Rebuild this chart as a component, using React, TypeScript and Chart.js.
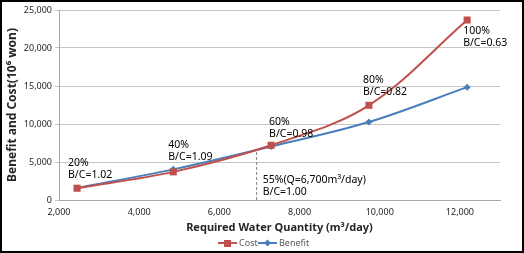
import React, { useEffect, useRef } from "react";
import { Chart, registerables } from "chart.js";

Chart.register(...registerables);

// Required water quantity (m³/day) at each supply level
const quantities = [2450, 4850, 7290, 9730, 12180];
// Cost and benefit (10⁶ won)
const costValues = [1550, 3700, 7200, 12460, 23680];
const benefitValues = [1580, 4030, 7050, 10260, 14850];
// Supply level and B/C ratio labels for each point
const levelLabels = ["20%", "40%", "60%", "80%", "100%"];
const ratioLabels = ["B/C=1.02", "B/C=1.09", "B/C=0.98", "B/C=0.82", "B/C=0.63"];
// Break-even point
const breakEvenQ = 6930;
const breakEvenValue = 6700;
const breakEvenLabels = ["55%(Q=6,700m³/day)", "B/C=1.00"];

// Axis ranges and tick values
const xMin = 2000;
const xMax = 13000;
const xTickValues = [2000, 4000, 6000, 8000, 10000, 12000];
const yMin = 0;
const yMax = 25000;
const yStep = 5000;

const seriesNames = ["Cost", "Benefit"];
const xTitle = "Required Water Quantity (m³/day)";
const yTitle = "Benefit and Cost(10⁶ won)";

const COST_COLOR = "#C0504D";
const BENEFIT_COLOR = "#4A7EBB";
const GRID_COLOR = "#C6C6C6";
const AXIS_COLOR = "#A6A6A6";
const TEXT_FONT = "'Noto Sans', sans-serif";

// Offsets (px) of each level label from its cost point
const labelOffsets = [
  { dx: -9, dy: -25 },
  { dx: -5, dy: -27 },
  { dx: -2, dy: -23 },
  { dx: -6, dy: -25 },
  { dx: -4, dy: 11 },
];

const fmt = (v: number) => v.toLocaleString("en-US");

const overlayPlugin = {
  id: "overlay",
  afterDatasetsDraw(chart: any) {
    const { ctx, chartArea, scales } = chart;
    const xs = scales.x;
    const ys = scales.y;
    ctx.save();

    // Level / ratio annotations
    ctx.fillStyle = "#000";
    ctx.font = `10.5px ${TEXT_FONT}`;
    ctx.textAlign = "left";
    ctx.textBaseline = "middle";
    quantities.forEach((q, i) => {
      const px = xs.getPixelForValue(q) + labelOffsets[i].dx;
      const py = ys.getPixelForValue(costValues[i]) + labelOffsets[i].dy;
      ctx.fillText(levelLabels[i], px, py);
      ctx.fillText(ratioLabels[i], px, py + 12);
    });
    const bx = xs.getPixelForValue(breakEvenQ) + 6;
    const by = ys.getPixelForValue(0) - 20;
    ctx.fillText(breakEvenLabels[0], bx, by);
    ctx.fillText(breakEvenLabels[1], bx, by + 12);

    // Axis titles
    ctx.fillStyle = "#262626";
    ctx.font = `bold 11px ${TEXT_FONT}`;
    ctx.textAlign = "center";
    ctx.fillText(xTitle, (chartArea.left + chartArea.right) / 2, 228);
    ctx.save();
    ctx.translate(13, (chartArea.top + chartArea.bottom) / 2);
    ctx.rotate(-Math.PI / 2);
    ctx.font = `bold 12px ${TEXT_FONT}`;
    ctx.fillText(yTitle, 0, 0);
    ctx.restore();

    // Legend
    const legendY = 243;
    const items = [
      { x: 218, color: COST_COLOR, style: "rect", name: seriesNames[0] },
      { x: 258, color: BENEFIT_COLOR, style: "rectRot", name: seriesNames[1] },
    ];
    ctx.font = `9px ${TEXT_FONT}`;
    ctx.textAlign = "left";
    items.forEach((it) => {
      ctx.strokeStyle = it.color;
      ctx.lineWidth = 2;
      ctx.beginPath();
      ctx.moveTo(it.x, legendY);
      ctx.lineTo(it.x + 19, legendY);
      ctx.stroke();
      ctx.fillStyle = it.color;
      if (it.style === "rect") {
        ctx.fillRect(it.x + 6, legendY - 3, 7, 7);
      } else {
        ctx.beginPath();
        ctx.moveTo(it.x + 9.5, legendY - 3.5);
        ctx.lineTo(it.x + 13, legendY);
        ctx.lineTo(it.x + 9.5, legendY + 3.5);
        ctx.lineTo(it.x + 6, legendY);
        ctx.closePath();
        ctx.fill();
      }
      ctx.fillStyle = "#595959";
      ctx.fillText(it.name, it.x + 21, legendY);
    });

    // Outer frame
    ctx.strokeStyle = "#000";
    ctx.lineWidth = 2;
    ctx.strokeRect(1, 1, chart.width - 2, chart.height - 2);
    ctx.restore();
  },
};

export default function App() {
  const canvasRef = useRef<HTMLCanvasElement | null>(null);

  useEffect(() => {
    document.body.style.margin = "0";
    const canvas = canvasRef.current;
    if (!canvas) return;
    const chart = new Chart(canvas, {
      type: "line",
      data: {
        datasets: [
          {
            label: seriesNames[0],
            data: quantities.map((q, i) => ({ x: q, y: costValues[i] })),
            borderColor: COST_COLOR,
            backgroundColor: COST_COLOR,
            borderWidth: 2,
            pointStyle: "rect",
            pointRadius: 5,
            pointBorderWidth: 0,
            tension: 0.35,
          },
          {
            label: seriesNames[1],
            data: quantities.map((q, i) => ({ x: q, y: benefitValues[i] })),
            borderColor: BENEFIT_COLOR,
            backgroundColor: BENEFIT_COLOR,
            borderWidth: 2,
            pointStyle: "rectRot",
            pointRadius: 3.5,
            pointBorderWidth: 0,
            tension: 0.35,
          },
          {
            label: "break-even",
            data: [
              { x: breakEvenQ, y: 0 },
              { x: breakEvenQ, y: breakEvenValue },
            ],
            borderColor: "#808080",
            borderWidth: 1,
            borderDash: [3, 2],
            pointRadius: 0,
            tension: 0,
          },
        ],
      },
      options: {
        responsive: false,
        animation: false,
        layout: { padding: { top: 10, right: 24, left: 0, bottom: 0 } },
        plugins: {
          legend: { display: false },
          tooltip: { enabled: false },
        },
        scales: {
          x: {
            type: "linear",
            min: xMin,
            max: xMax,
            afterBuildTicks: (s: any) => {
              s.ticks = xTickValues.map((v) => ({ value: v }));
            },
            afterFit: (s: any) => {
              s.height = 53;
            },
            grid: { display: false, drawTicks: false },
            border: { display: true, color: AXIS_COLOR, width: 1 },
            ticks: {
              autoSkip: false,
              maxRotation: 0,
              padding: 7,
              color: "#262626",
              font: { family: TEXT_FONT, size: 9 },
              callback: (v: any) => fmt(Number(v)),
            },
          },
          y: {
            type: "linear",
            min: yMin,
            max: yMax,
            afterFit: (s: any) => {
              s.width = 59;
            },
            grid: { color: GRID_COLOR, lineWidth: 1, tickLength: 4, drawTicks: true },
            border: { display: true, color: AXIS_COLOR, width: 1 },
            ticks: {
              stepSize: yStep,
              padding: 3,
              color: "#262626",
              font: { family: TEXT_FONT, size: 9 },
              callback: (v: any) => fmt(Number(v)),
            },
          },
        },
      },
      plugins: [overlayPlugin],
    });
    return () => chart.destroy();
  }, []);

  return (
    <div style={{ width: 524, height: 253 }}>
      <canvas ref={canvasRef} width={524} height={253} style={{ display: "block" }} />
    </div>
  );
}
